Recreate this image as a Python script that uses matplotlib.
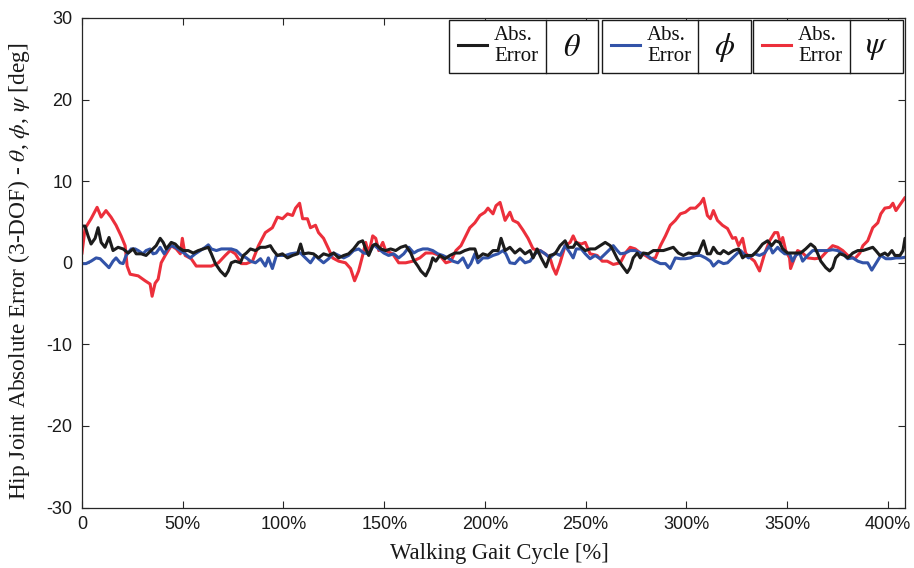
import matplotlib
matplotlib.use("Agg")
import matplotlib.pyplot as plt
from matplotlib.patches import Rectangle
from matplotlib.lines import Line2D

plt.rcParams['axes.unicode_minus'] = False
plt.rcParams['mathtext.fontset'] = 'stix'

# ---------------- data (gait cycle %, absolute error deg) ----------------
theta_x = [0, 1.5, 3.0, 4.5, 6.5, 8.0, 9.5, 11.4, 13.4, 15.4, 17.9, 20.4, 22.9, 25.4, 26.9, 29.4, 31.8, 34.3, 36.8, 38.8,
           40.3, 41.8, 44.3, 46.3, 47.8, 50.2, 52.7, 55.2, 57.7, 60.2, 62.7, 64.2, 66.2, 68.7, 71.1, 72.6, 74.1, 76.1, 78.6, 80.1, 81.6,
           83.6, 86.1, 88.6, 91.0, 93.5, 95.0, 97.0, 99.5, 102.0, 104.5, 107.0, 108.5, 109.9, 112.4, 114.9, 117.4, 119.9, 122.4,
           124.9, 127.4, 129.9, 132.3, 134.8, 137.3, 139.3, 140.8, 142.3, 144.3, 145.8, 148.3, 150.7, 153.2, 155.7, 158.2, 160.7,
           163.2, 164.7,
           166.7, 168.2, 170.6, 172.6, 174.1, 175.6, 177.6, 180.1, 182.6, 185.1, 187.6, 190.0, 192.5, 195.0, 196.5, 199.0, 201.5,
           204.0, 206.5, 208.0, 210.0, 212.4, 214.9, 217.4, 219.9, 222.4, 223.9, 225.9, 227.9, 230.3, 232.3, 234.8, 237.3, 239.8,
           241.3, 243.8, 245.3, 247.8,
           249.8, 252.2, 254.7, 257.2, 259.7, 262.2, 263.7, 265.7, 268.2, 270.6, 272.1, 273.6, 275.6, 277.1, 278.6, 281.1, 283.6,
           286.1, 288.6, 291.0, 293.5, 296.0, 298.5, 301.0, 303.5, 306.0, 308.5, 310.4, 311.9, 313.4, 315.4, 316.9, 318.4, 320.9,
           323.4, 325.9, 327.9, 329.4,
           332.8, 335.3, 337.8, 340.3, 342.3, 344.3, 346.3, 347.8, 350.2, 353.7, 356.7, 359.2, 361.7, 363.7, 365.2, 366.7, 369.2,
           371.1, 372.6, 374.1, 376.1, 378.6, 380.1, 382.6, 385.1, 387.6, 390.0, 392.5, 394.0, 396.0, 398.5, 400.0, 402.0, 403.5,
           406.0, 407.5, 408.5, 410.0]
theta_y = [4.5, 4.5, 3.3, 2.3, 3.0, 4.3, 2.5, 1.9, 3.1, 1.5, 1.9, 1.7, 1.2, 1.7, 1.1, 1.1, 0.9, 1.5, 2.1, 3.0,
           2.5, 1.7, 2.5, 2.3, 1.9, 1.5, 1.5, 1.2, 1.5, 1.7, 1.9, 1.1, -0.1, -1.0, -1.6, -1.0, 0.0, 0.2, 0.0, 0.9, 1.2,
           1.7, 1.5, 1.9, 1.9, 2.1, 1.5, 0.9, 1.1, 0.6, 0.9, 1.1, 2.3, 1.1, 1.2, 1.1, 0.6, 1.1, 0.9,
           1.2, 0.6, 0.9, 1.1, 1.7, 2.5, 2.7, 1.7, 0.9, 2.1, 2.3, 1.7, 1.5, 1.7, 1.5, 1.9, 2.1,
           1.2, 0.3,
           -0.4, -1.0, -1.6, -0.6, 0.6, 0.2, 0.9, 0.5, 0.9, 1.2, 1.2, 1.5, 1.7, 1.7, 0.6, 1.1, 0.9,
           1.5, 1.5, 3.0, 1.5, 1.9, 1.2, 1.7, 1.1, 1.5, 0.6, 1.7, 0.6, -0.5, 0.9, 1.1, 2.1, 2.7,
           1.9, 1.9, 2.5, 1.9,
           1.5, 1.7, 1.7, 2.1, 2.5, 2.1, 1.5, 0.5, -0.4, -1.2, -0.6, 0.6, 1.2, 0.6, 1.2, 1.1, 1.5,
           1.5, 1.5, 1.7, 1.9, 1.2, 0.9, 1.2, 1.1, 1.2, 2.7, 1.1, 1.1, 1.9, 1.2, 1.1, 1.5, 1.1,
           1.5, 1.7, 0.6, 0.9,
           0.9, 1.5, 2.3, 2.7, 2.1, 2.7, 2.5, 1.7, 1.2, 1.2, 1.2, 1.7, 2.3, 1.9, 1.1, 0.2, -0.6,
           -1.0, -0.6, 0.6, 1.1, 0.9, 0.6, 1.2, 1.5, 1.5, 1.7, 1.9, 1.5, 0.9, 1.2, 0.9, 1.5, 0.9,
           0.9, 1.5, 3.0, 2.3]

phi_x = [0, 2.0, 4.5, 7.0, 9.0, 11.4, 13.4, 15.4, 16.9, 18.9, 20.4, 21.9, 24.4, 26.4, 27.9, 30.3, 31.8, 33.8, 35.3, 36.8,
         38.8, 40.8, 42.3, 44.3, 46.3, 48.8, 51.2, 53.7, 56.2, 58.7, 61.2, 62.7, 64.2, 66.7, 69.2, 71.6, 74.1, 76.6, 79.1, 81.6,
         83.6, 86.1, 88.6, 91.0, 92.5, 94.5, 96.5, 98.5, 101.0, 103.5, 106.0, 108.5, 110.9, 113.4, 115.9, 117.4, 119.9, 122.4,
         124.9, 127.4, 129.9, 132.3, 134.8, 137.3, 139.8, 142.3, 144.8, 147.3, 149.8, 152.2, 154.7, 157.2, 159.7, 162.2, 164.7,
         166.7, 169.2, 171.6, 174.1, 176.6, 179.1, 181.6, 184.1, 186.6, 189.1, 191.5, 193.0, 195.0, 196.5, 199.0, 201.5, 204.0,
         206.5, 209.0, 210.4, 212.4, 214.9, 217.4, 219.9, 222.4, 224.9, 227.4, 229.9, 232.3, 234.8, 237.3, 239.8, 242.3, 243.8,
         245.3, 247.8,
         249.8, 252.2, 254.7, 257.2, 259.7, 262.2, 263.7, 265.7, 267.2, 269.7, 272.1, 274.6, 277.1, 279.6, 282.1, 284.6, 287.1,
         289.6, 292.0, 294.5, 297.0, 299.5, 302.0, 304.5, 307.0, 309.5, 311.9, 313.4, 315.9, 318.4, 320.4, 322.9, 325.4, 326.9,
         328.4, 330.8,
         333.8, 336.3, 338.8, 341.3, 342.8, 345.3, 346.8, 348.8, 351.2, 352.7, 354.2, 356.2, 357.7, 360.2, 362.7, 365.2, 367.7,
         370.1, 372.6, 375.1, 377.6, 380.1, 382.6, 385.1, 387.6, 390.0, 392.0, 394.0, 396.5, 399.0, 401.5, 404.0, 406.5, 409.0]
phi_y = [-0.1, -0.1, 0.2, 0.6, 0.5, -0.1, -0.6, 0.2, 0.6, 0.0, -0.1, 0.9, 1.7, 1.7, 1.5, 1.1, 1.5, 1.7, 1.1, 1.2,
         1.9, 1.1, 1.7, 2.1, 1.9, 1.5, 1.1, 0.6, 1.1, 1.5, 1.9, 2.2, 1.7, 1.5, 1.7, 1.7, 1.7, 1.5, 0.9, 0.6,
         0.2, 0.0, 0.5, -0.4, 0.6, -0.7, 0.9, 0.9, 0.9, 1.1, 1.2, 1.2, 0.6, 0.0, 0.9, 0.5, 0.0, 0.5,
         1.2, 0.9, 0.6, 0.9, 1.5, 1.7, 1.2, 1.1, 2.2, 1.7, 1.2, 0.9, 1.1, 0.6, 1.1, 1.9, 1.2,
         1.5, 1.7, 1.7, 1.5, 1.1, 0.9, 0.6, 0.2, 0.0, 0.6, -0.6, -0.1, 1.1, 0.0, 0.6, 0.6, 0.9,
         1.1, 1.5, 1.1, 0.0, -0.1, 0.6, 0.0, 0.2, 1.1, 1.5, 1.1, 0.6, 1.2, 0.9, 2.1, 1.2, 0.6,
         1.7, 1.7,
         1.1, 0.5, 0.9, 0.5, 1.1, 1.7, 2.1, 1.5, 1.1, 1.2, 1.5, 1.5, 1.2, 1.1, 0.6, 0.2, -0.1,
         -0.1, -0.7, 0.6, 0.5, 0.5, 0.6, 0.9, 0.9, 0.6, 0.2, -0.4, 0.2, -0.1, 0.0, 0.6, 1.2, 1.5,
         1.1, 0.6,
         1.1, 0.9, 1.2, 2.1, 1.2, 1.9, 1.5, 1.1, 1.1, 0.2, 0.9, 1.2, 0.2, 0.9, 1.5, 1.5, 1.5,
         1.5, 1.6, 1.5, 1.1, 0.5, 0.6, 0.2, 0.0, 0.0, -0.9, -0.1, 0.9, 0.5, 0.5, 0.6, 0.6, 0.7]

psi_x = [0, 1.5, 4.5, 7.5, 9.5, 11.9, 14.4, 16.9, 19.4, 21.4, 22.4, 23.9, 27.9, 31.3, 33.8, 34.8, 36.3, 37.8, 39.3, 41.3,
         44.3, 46.8, 48.8, 49.8, 51.2, 54.2, 56.7, 59.2, 64.2, 67.7, 71.1, 73.6, 76.1, 79.1, 81.6,
         84.6, 87.6, 91.0, 94.5, 97.0, 99.5, 102.0, 104.5, 106.0, 108.0, 109.5, 111.9, 113.4, 115.9, 117.4, 119.9, 122.4,
         124.4, 127.4, 130.8, 133.3, 135.3, 137.3, 139.3, 140.8, 142.3, 144.3, 145.8, 147.3, 149.3, 150.7, 154.2, 157.2,
         160.7, 164.2,
         167.7, 170.6, 174.1, 177.6, 180.6, 183.1, 185.6, 188.1, 190.5, 192.5, 195.0, 197.5, 200.0, 201.5, 204.0, 205.5,
         207.5, 210.0, 212.4, 213.9, 216.4, 218.9, 221.4, 223.9, 227.4, 229.9, 232.3, 233.8, 235.3, 237.3, 239.8, 242.3,
         243.8, 245.3, 247.8,
         249.8, 252.2, 255.7, 258.2, 260.7, 263.7, 267.2, 269.7, 272.1, 274.6, 277.1, 279.6, 282.1, 284.6, 287.1, 289.6,
         292.0, 294.5, 297.0, 299.5, 302.0, 304.5, 307.0, 308.5, 310.4, 311.9, 313.4, 315.4, 317.9, 320.4, 322.9, 324.4,
         325.9, 327.9, 329.4, 330.8,
         333.8, 336.3, 338.8, 341.3, 343.8, 345.3, 346.8, 347.8, 349.3, 351.2, 351.7, 353.7, 355.2, 357.7, 360.2, 363.7,
         366.7, 370.1, 372.6, 375.1, 377.6, 380.1, 383.6, 386.1, 387.6, 390.0, 392.5, 395.0, 396.5, 398.5, 401.0, 402.5,
         404.0, 406.5, 408.5, 410.0]
psi_y = [1.2, 4.2, 5.4, 6.8, 5.6, 6.4, 5.6, 4.6, 3.3, 2.1, -0.4, -1.4, -1.6, -2.2, -2.6, -4.1, -2.5, -2.0, 0.0, 0.9,
         2.1, 1.7, 1.1, 3.0, 0.9, 0.5, -0.4, -0.4, -0.4, 0.0, 0.9, 1.5, 1.1, -0.1, -0.1,
         0.2, 2.1, 3.7, 4.3, 5.6, 5.4, 6.0, 5.8, 6.7, 7.3, 5.4, 5.4, 4.3, 4.6, 3.7, 3.0, 1.7,
         0.6, 0.2, 0.0, -0.7, -2.2, -1.0, 0.9, 2.5, 1.1, 3.3, 3.0, 1.5, 2.5, 1.5, 1.1, 0.0,
         0.0, 0.2,
         0.6, 1.2, 1.2, 0.9, 0.0, 0.2, 1.5, 2.1, 3.3, 4.3, 4.9, 5.8, 6.2, 6.7, 6.0, 7.0,
         7.4, 5.2, 6.2, 5.2, 4.9, 4.0, 3.0, 1.7, 1.5, 1.1, 0.6, -0.6, -1.4, 0.0, 2.1, 2.5,
         3.3, 2.5, 2.3,
         2.5, 1.1, 0.9, 0.2, 0.2, -0.2, 0.0, 1.2, 1.9, 1.7, 1.2, 0.9, 0.5, 0.6, 2.1, 3.3,
         4.6, 5.2, 6.0, 6.2, 6.7, 6.7, 7.3, 7.9, 5.8, 5.4, 6.4, 5.2, 4.6, 4.2, 3.0, 3.1,
         2.1, 3.0, 1.2, 0.8,
         0.2, -1.0, 1.1, 2.7, 3.7, 3.7, 2.3, 3.1, 1.5, 0.6, -0.7, 0.6, 1.5, 1.2, 0.6, 0.5,
         0.6, 1.5, 2.1, 1.9, 1.5, 0.9, 0.5, 1.2, 2.1, 2.7, 4.3, 4.9, 6.0, 6.7, 6.8, 7.3,
         6.4, 7.3, 8.0, 7.3]

x_ticks = [0, 50, 100, 150, 200, 250, 300, 350, 400]
x_tick_labels = ['0', '50%', '100%', '150%', '200%', '250%', '300%', '350%', '400%']
y_ticks = [-30, -20, -10, 0, 10, 20, 30]
y_tick_labels = ['-30', '-20', '-10', '0', '10', '20', '30']
series_symbols = [r'$\theta$', r'$\phi$', r'$\psi$']
series_label = 'Abs.\nError'

# ---------------- style ----------------
c_theta = '#1c1c1c'
c_phi = '#3253a8'
c_psi = '#ec2f3b'
lw = 2.2
W, H = 914, 568

fig = plt.figure(figsize=(W / 100, H / 100), dpi=100)
ax = fig.add_axes([82 / W, 1 - 507.6 / H, (905 - 82) / W, (507.6 - 18) / H])

ax.plot(theta_x, theta_y, color=c_theta, lw=lw, zorder=3)
ax.plot(phi_x, phi_y, color=c_phi, lw=lw, zorder=2)
ax.plot(psi_x, psi_y, color=c_psi, lw=lw, zorder=1)

ax.set_xlim(0, 408.5)
ax.set_ylim(-30, 30)
ax.set_xticks(x_ticks)
ax.set_xticklabels(x_tick_labels, fontfamily='Liberation Sans', fontsize=13)
ax.set_yticks(y_ticks)
ax.set_yticklabels(y_tick_labels, fontfamily='Liberation Sans', fontsize=13)
ax.tick_params(direction='in', length=5, width=0.8, top=True, right=True, colors='#262626',
               labelcolor='#1a1a1a')
ax.tick_params(axis='x', pad=6)
ax.tick_params(axis='y', pad=7)
for s in ax.spines.values():
    s.set_color('#262626')
    s.set_linewidth(0.9)

ax.set_xlabel('Walking Gait Cycle [%]', fontfamily='Liberation Serif', fontsize=16.3,
              color='#1a1a1a')
ax.set_ylabel(r'Hip Joint Absolute Error (3-DOF) - $\theta$, $\phi$, $\psi$ [deg]',
              fontfamily='Liberation Serif', fontsize=16.8, color='#1a1a1a')
ax.xaxis.set_label_coords(0.507, -0.072)
ax.yaxis.set_label_coords(-0.061, 0.482)

# ---------------- custom legend boxes ----------------
def fx(px):
    return px / W

def fy(py):
    return 1 - py / H

boxes = [(449, 546, 598), (602, 698, 751), (753, 850, 903)]
colors = [c_theta, c_phi, c_psi]
top, bot = 20, 73
for (x0, xd, x1), col, sym in zip(boxes, colors, series_symbols):
    fig.add_artist(Rectangle((fx(x0), fy(bot)), fx(x1) - fx(x0), fy(top) - fy(bot),
                             transform=fig.transFigure, facecolor='white',
                             edgecolor='#1a1a1a', lw=1.0, zorder=10))
    fig.add_artist(Line2D([fx(xd), fx(xd)], [fy(bot), fy(top)], transform=fig.transFigure,
                          color='#1a1a1a', lw=1.0, zorder=11))
    fig.add_artist(Line2D([fx(x0 + 9), fx(x0 + 38)], [fy(45), fy(45)], transform=fig.transFigure,
                          color=col, lw=2.2, zorder=11))
    fig.text(fx(x0 + 45), fy(46), series_label, ha='left', va='center',
             fontfamily='Liberation Serif', fontsize=15, linespacing=1.15,
             color='#111111', zorder=12)
    fig.text(fx((xd + x1) / 2), fy(47), sym, ha='center', va='center',
             fontsize=23, color='#111111', zorder=12)

fig.savefig('out.png', dpi=100)
